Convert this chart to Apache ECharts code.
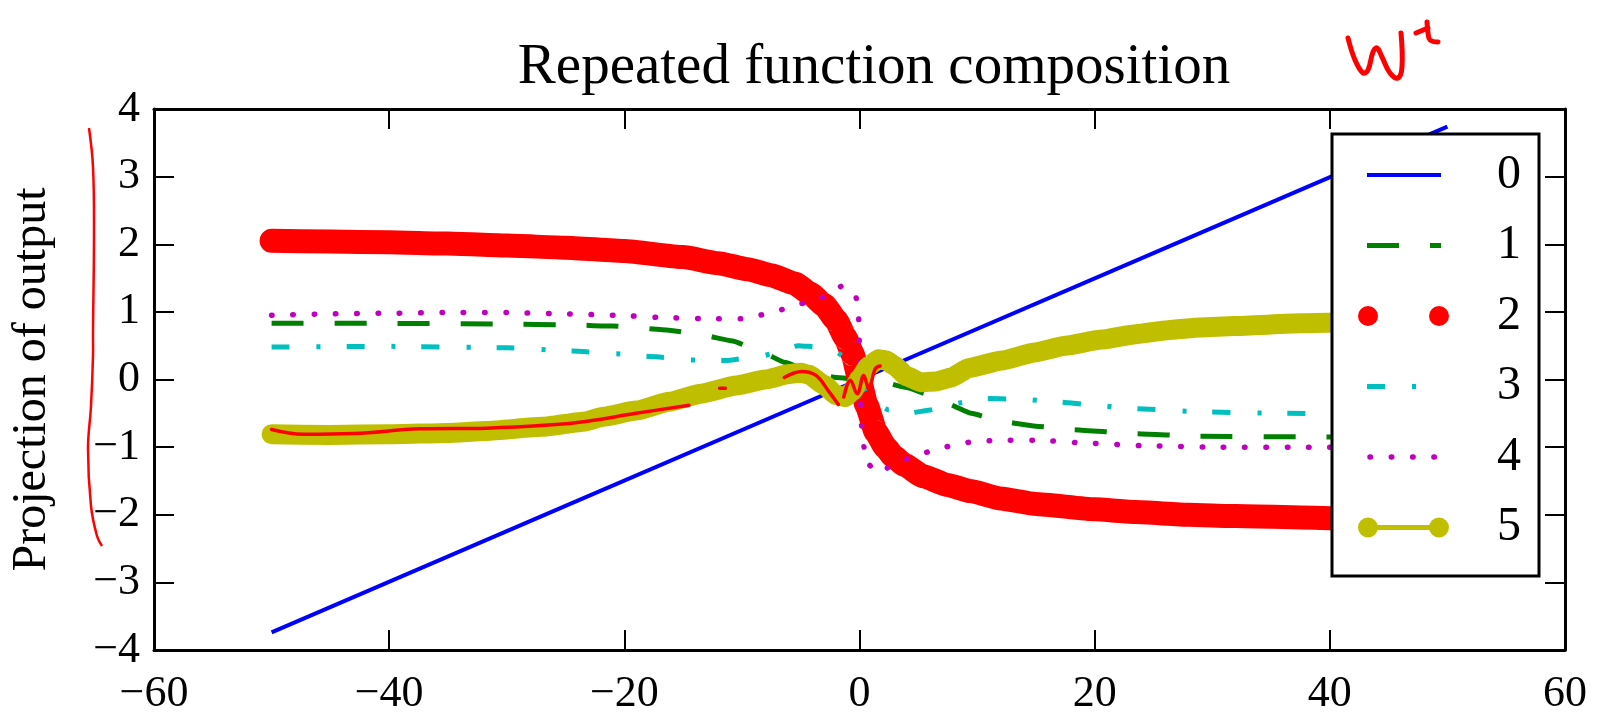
<!DOCTYPE html>
<html>
<head>
<meta charset="utf-8">
<script src="https://cdn.jsdelivr.net/npm/echarts@6/dist/echarts.min.js"></script>
<style>
  html, body { margin: 0; padding: 0; background: #fff; }
  #chart { width: 1600px; height: 716px; }
</style>
</head>
<body>
<div id="chart"></div>
<script>
// series names (legend labels)
var seriesNames = ['0', '1', '2', '3', '4', '5'];
var xTicks = [-60, -40, -20, 0, 20, 40, 60];
var yTicks = [-4, -3, -2, -1, 0, 1, 2, 3, 4];

// values, [x, y]
var line0 = [[-50, -3.74], [-25, -1.87], [0, 0], [25, 1.87], [50, 3.74]];
var line1 = [[-50, 0.83], [-40, 0.83], [-30, 0.82], [-25, 0.81], [-21, 0.79], [-16.2, 0.73], [-13.5, 0.66],
  [-10.8, 0.57], [-8.5, 0.42], [-6.3, 0.25], [-4, 0.1], [-2, 0.03], [0, 0], [2, -0.04], [4, -0.12],
  [5.8, -0.22], [7.5, -0.36], [9.5, -0.5], [12, -0.62], [15, -0.69], [18, -0.74], [23.4, -0.8],
  [28.8, -0.84], [39.2, -0.85], [50, -0.85]];
var line2 = [[-50, 2.05], [-45, 2.04], [-40, 2.03], [-35, 2.01], [-30, 1.98], [-25, 1.95], [-20, 1.9],
  [-15, 1.81], [-12, 1.72], [-9.5, 1.63], [-7.5, 1.54], [-5.5, 1.42], [-4.2, 1.27], [-3, 1.1],
  [-2, 0.88], [-1.2, 0.62], [-0.6, 0.38], [0, 0], [0.6, -0.38], [1.4, -0.78], [2.2, -1.0],
  [2.9, -1.14], [3.8, -1.26], [5.4, -1.43], [7.5, -1.56], [9.4, -1.65], [12, -1.76], [15, -1.84],
  [20, -1.92], [23.5, -1.96], [28, -2.0], [32, -2.02], [40, -2.05], [45, -2.06], [50, -2.06]];
var line3 = [[-50, 0.48], [-40, 0.49], [-30, 0.47], [-24.4, 0.42], [-20.7, 0.38], [-17.7, 0.34],
  [-14.5, 0.29], [-11.4, 0.28], [-8.3, 0.35], [-5.2, 0.5], [-3.5, 0.48], [-2, 0.41], [-1, 0.3],
  [0, 0], [0.6, -0.2], [1.3, -0.35], [2.5, -0.45], [4.2, -0.5], [6, -0.45], [8, -0.36], [10.4, -0.28],
  [13.6, -0.29], [16.8, -0.33], [20, -0.38], [23.1, -0.43], [29.3, -0.48], [35.8, -0.5], [50, -0.52]];
var line4 = [[-50, 0.95], [-45, 0.97], [-40, 0.98], [-35, 0.99], [-30, 0.99], [-25, 0.97], [-20.7, 0.95],
  [-17.2, 0.92], [-13.6, 0.9], [-10, 0.9], [-8.1, 0.96], [-6.4, 1.04], [-4.7, 1.13], [-3, 1.22],
  [-1.4, 1.39], [-0.3, 1.22], [-0.07, 0.92], [0.05, 0], [0.13, -0.62], [0.35, -0.95], [0.5, -1.22],
  [1.6, -1.38], [3.2, -1.23], [4.7, -1.13], [6.6, -1.03], [8.4, -0.95], [10.1, -0.91], [12, -0.9],
  [15.5, -0.9], [19.1, -0.94], [24.5, -0.98], [29.9, -1.0], [38.9, -1.0], [50, -1.0]];
var line5 = [[-50, -0.81], [-45, -0.82], [-40, -0.81], [-35, -0.79], [-31.7, -0.76], [-27, -0.7],
  [-23.3, -0.62], [-21.8, -0.55], [-19, -0.46], [-16.2, -0.33], [-13.5, -0.21], [-10.5, -0.09],
  [-8, 0.0], [-6, 0.08], [-5, 0.1], [-4.3, 0.07], [-3, -0.08], [-2, -0.23], [-1.2, -0.26],
  [-0.6, -0.17], [0, 0.01], [0.8, 0.2], [1.6, 0.3], [2.3, 0.28], [3, 0.2], [4, 0.05], [5.2, -0.04],
  [6.5, -0.03], [7.8, 0.03], [9.3, 0.17], [12.1, 0.28], [14.9, 0.4], [17.5, 0.5], [20.6, 0.59],
  [23.5, 0.67], [26.2, 0.73], [29, 0.77], [31.9, 0.79], [37.5, 0.83], [45, 0.86], [50, 0.87]];

// red pen strokes drawn over the chart
var penStroke = [[-50, -0.74], [-47.3, -0.81], [-43, -0.8], [-37.4, -0.73], [-31.7, -0.72], [-26.1, -0.67],
  [-23.3, -0.62], [-19, -0.5], [-14.5, -0.38], '-', [-11.9, -0.13], [-11.4, -0.13], '-',
  [-6.4, 0.03], [-4.9, 0.12], [-3.7, 0.06], [-2.6, -0.18], [-1.8, -0.37], '-',
  [-1.34, -0.26], [-0.78, -0.01], [-0.2, -0.21], [0.36, 0.06], [0.78, -0.14], [1.34, 0.16], [1.76, 0.2]];

var colors = ['#0000ff', '#008000', '#ff0000', '#00bfbf', '#bf00bf', '#bfbf00'];
var FONT = '"Liberation Serif", "DejaVu Serif", serif';

function minus(v) { return v < 0 ? '\u2212' + (-v) : String(v); }

var chart = echarts.init(document.getElementById('chart'));

var axisLine = { onZero: false, lineStyle: { color: '#000', width: 3 } };
var axisTick = { inside: true, length: 20, lineStyle: { color: '#000', width: 2 } };

// legend drawn by hand, matplotlib style
var LX = 1332, LY = 134, LW = 207, LH = 442;
var hx1 = 1367, hx2 = 1441, rowY0 = 175, rowGap = 70.5;
var legend = [{
  type: 'rect', z: 100,
  shape: { x: LX, y: LY, width: LW, height: LH },
  style: { fill: '#fff', stroke: '#000', lineWidth: 3 }
}];
function row(i) { return rowY0 + rowGap * i; }
legend.push({ type: 'line', z: 101, shape: { x1: hx1, y1: row(0), x2: hx2, y2: row(0) }, style: { stroke: colors[0], lineWidth: 4 } });
legend.push({ type: 'line', z: 101, shape: { x1: hx1, y1: row(1), x2: hx2, y2: row(1) }, style: { stroke: colors[1], lineWidth: 5, lineDash: [32, 31] } });
legend.push({ type: 'circle', z: 101, shape: { cx: hx1 + 1, cy: row(2), r: 10 }, style: { fill: colors[2] } });
legend.push({ type: 'circle', z: 101, shape: { cx: hx2 - 2, cy: row(2), r: 10 }, style: { fill: colors[2] } });
legend.push({ type: 'line', z: 101, shape: { x1: hx1, y1: row(3), x2: hx2, y2: row(3) }, style: { stroke: colors[3], lineWidth: 5, lineDash: [18, 27, 4, 26] } });
legend.push({ type: 'line', z: 101, shape: { x1: hx1 + 3, y1: row(4), x2: hx2, y2: row(4) }, style: { stroke: colors[4], lineWidth: 5.5, lineCap: 'round', lineDash: [0.5, 20.8] } });
legend.push({ type: 'line', z: 101, shape: { x1: hx1, y1: row(5), x2: hx2, y2: row(5) }, style: { stroke: colors[5], lineWidth: 5 } });
legend.push({ type: 'circle', z: 101, shape: { cx: hx1 + 1, cy: row(5), r: 10 }, style: { fill: colors[5] } });
legend.push({ type: 'circle', z: 101, shape: { cx: hx2 - 2, cy: row(5), r: 10 }, style: { fill: colors[5] } });
seriesNames.forEach(function (n, i) {
  legend.push({
    type: 'text', z: 101,
    style: { text: n, x: 1509, y: row(i), fill: '#000', font: '48px ' + FONT, align: 'center', verticalAlign: 'middle' }
  });
});

// handwritten marks
var pen = { stroke: '#ff0000', lineWidth: 5, lineCap: 'round', lineJoin: 'round', fill: null };
var marks = [
  { type: 'polyline', z: 110, shape: { smooth: 0.4, points: [[1348, 38], [1355, 60], [1363, 73], [1368, 70], [1373, 52], [1377, 48], [1382, 57], [1390, 73], [1398, 78], [1402, 67], [1401, 33]] }, style: pen },
  { type: 'polyline', z: 110, shape: { smooth: 0.3, points: [[1416, 33], [1428, 28]] }, style: pen },
  { type: 'polyline', z: 110, shape: { smooth: 0.4, points: [[1427, 22], [1428, 33], [1430, 40], [1438, 42]] }, style: pen },
  { type: 'polyline', z: 110, shape: { smooth: 0.4, points: [[89, 128], [93, 167], [94, 233], [93, 333], [93, 356], [91, 406], [88, 449], [91, 506], [97, 536], [102, 546]] }, style: { stroke: '#ff0000', lineWidth: 2.5, fill: null } }
];

function curve(i, data, lineStyle, smooth) {
  return {
    name: seriesNames[i], type: 'line', data: data, showSymbol: false, symbol: 'none',
    smooth: smooth || false, smoothMonotone: 'x', silent: true,
    lineStyle: Object.assign({ color: colors[i], join: 'round' }, lineStyle)
  };
}

var option = {
  animation: false,
  backgroundColor: '#fff',
  title: {
    text: 'Repeated function composition',
    left: 869, top: 35, textAlign: 'center',
    textStyle: { fontFamily: FONT, fontSize: 57, fontWeight: 'normal', color: '#000' }
  },
  grid: { left: 151, right: 35, top: 109, bottom: 57 },
  xAxis: [{
    type: 'value', min: -60, max: 60, interval: 20,
    axisLine: axisLine, axisTick: axisTick, splitLine: { show: false },
    axisLabel: { fontFamily: FONT, fontSize: 44, color: '#000', margin: 22, formatter: minus }
  }, {
    type: 'value', position: 'top', min: -60, max: 60, interval: 20,
    axisLine: axisLine, axisTick: axisTick, splitLine: { show: false }, axisLabel: { show: false }
  }],
  yAxis: [{
    type: 'value', min: -4, max: 4, interval: 1,
    name: 'Projection of output', nameLocation: 'middle', nameGap: 98,
    nameTextStyle: { fontFamily: FONT, fontSize: 48, color: '#000' },
    axisLine: axisLine, axisTick: axisTick, splitLine: { show: false },
    axisLabel: { fontFamily: FONT, fontSize: 44, color: '#000', margin: 14, formatter: minus }
  }, {
    type: 'value', position: 'right', min: -4, max: 4, interval: 1,
    axisLine: axisLine, axisTick: axisTick, splitLine: { show: false }, axisLabel: { show: false }
  }],
  series: [
    curve(0, line0, { width: 4 }),
    curve(1, line1, { width: 5, type: [32, 31] }, 0.15),
    curve(2, line2, { width: 24, cap: 'round' }, 0.15),
    curve(3, line3, { width: 5, type: [18, 27, 4, 26] }, 0.15),
    curve(4, line4, { width: 5.5, cap: 'round', type: [0.5, 20.8] }, 0.15),
    curve(5, line5, { width: 20, cap: 'round' }, 0.15),
    {
      name: 'pen', type: 'line', data: penStroke, showSymbol: false, symbol: 'none', silent: true,
      smooth: 0.4, connectNulls: false, z: 5,
      lineStyle: { color: '#ff0000', width: 3.5, cap: 'round', join: 'round' }
    }
  ],
  graphic: legend.concat(marks)
};

chart.setOption(option);
</script>
</body>
</html>
